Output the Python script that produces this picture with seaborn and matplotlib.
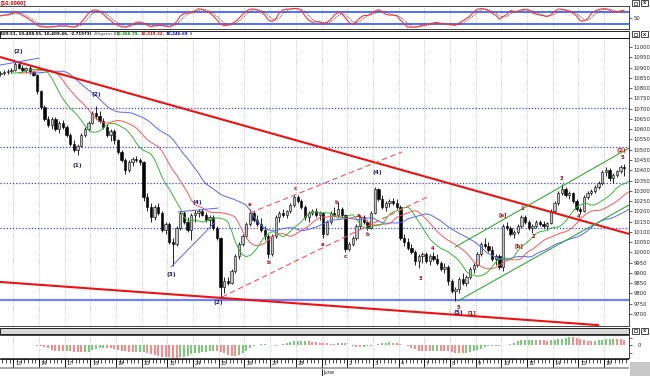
import numpy as np
import pandas as pd
import matplotlib
matplotlib.use("Agg")
import matplotlib.pyplot as plt
import seaborn as sns
from matplotlib.patches import Rectangle
from matplotlib.lines import Line2D

sns.set_style("white")
plt.rcParams['font.family'] = ['DejaVu Sans']

# hourly bars, one row per session (first row: tail of the 12th)
open_ = [10870, 10875, 10880, 10885,
         10890, 10915, 10900, 10890, 10900, 10880, 10865,
         10785, 10710, 10650, 10620, 10650, 10600, 10630,
         10610, 10570, 10530, 10500, 10520, 10570, 10600,
         10630, 10680, 10665, 10640, 10610, 10570, 10590,
         10545, 10490, 10450, 10400, 10440, 10455, 10450,
         10440, 10270, 10220, 10170, 10220, 10190, 10110,
         10140, 10050, 10040, 10120, 10190, 10150, 10110,
         10180, 10190, 10200, 10180, 10160, 10170, 10120,
         10070, 9830, 9860, 9850, 9910, 9980, 10040,
         10080, 10140, 10190, 10160, 10140, 10110, 10080,
         9990, 10080, 10170, 10190, 10180, 10200, 10230,
         10270, 10250, 10220, 10170, 10190, 10200, 10180,
         10190, 10090, 10150, 10190, 10180, 10210, 10180,
         10015, 10040, 10070, 10130, 10170, 10150, 10120,
         10190, 10310, 10260, 10220, 10240, 10250, 10240,
         10220, 10070, 10050, 10020, 10000, 9960, 9980,
         9990, 9960, 9980, 9970, 9950, 9920, 9930,
         9860, 9810, 9820, 9870, 9850, 9880, 9920,
         9940, 9990, 10040, 10030, 10010, 9970, 9980,
         9930, 10130, 10120, 10090, 10100, 10130, 10170,
         10150, 10120, 10130, 10150, 10140, 10130, 10145,
         10200, 10240, 10290, 10310, 10280, 10290, 10250,
         10210, 10200, 10270, 10290, 10300, 10320, 10340,
         10390, 10400, 10360, 10375, 10395, 10415]
high_ = [10885, 10890, 10895, 10900,
         10925, 10930, 10910, 10905, 10910, 10890, 10870,
         10790, 10720, 10665, 10660, 10660, 10640, 10645,
         10620, 10580, 10545, 10530, 10580, 10610, 10640,
         10690, 10715, 10690, 10655, 10625, 10600, 10600,
         10550, 10500, 10460, 10450, 10465, 10470, 10460,
         10445, 10290, 10240, 10230, 10240, 10200, 10150,
         10150, 10070, 10130, 10200, 10200, 10170, 10190,
         10205, 10210, 10210, 10195, 10180, 10180, 10130,
         10075, 9880, 9880, 9920, 9990, 10050, 10090,
         10150, 10210, 10200, 10180, 10165, 10130, 10090,
         10090, 10180, 10200, 10210, 10205, 10240, 10280,
         10280, 10260, 10230, 10200, 10210, 10215, 10200,
         10195, 10160, 10200, 10220, 10245, 10220, 10185,
         10050, 10080, 10140, 10180, 10180, 10160, 10200,
         10320, 10315, 10280, 10250, 10260, 10265, 10260,
         10230, 10090, 10070, 10040, 10010, 9990, 10000,
         10000, 9990, 10000, 9990, 9960, 9950, 9940,
         9870, 9830, 9880, 9900, 9890, 9930, 9950,
         10000, 10050, 10070, 10050, 10030, 9990, 9990,
         10140, 10150, 10130, 10110, 10140, 10180, 10180,
         10160, 10140, 10160, 10160, 10155, 10150, 10210,
         10250, 10300, 10335, 10320, 10300, 10295, 10260,
         10220, 10280, 10300, 10310, 10330, 10350, 10400,
         10415, 10410, 10385, 10400, 10425, 10430]
low_ = [10860, 10865, 10870, 10875,
        10885, 10895, 10880, 10875, 10870, 10860, 10770,
        10700, 10640, 10610, 10600, 10590, 10580, 10600,
        10560, 10520, 10490, 10475, 10515, 10560, 10590,
        10625, 10650, 10630, 10600, 10560, 10540, 10530,
        10480, 10440, 10380, 10390, 10420, 10440, 10425,
        10250, 10200, 10150, 10160, 10180, 10100, 10090,
        10040, 9935, 10030, 10110, 10140, 10100, 10060,
        10150, 10170, 10175, 10150, 10130, 10110, 10060,
        9785, 9800, 9840, 9845, 9900, 9970, 10030,
        10070, 10130, 10150, 10130, 10100, 10060, 9975,
        9980, 10070, 10150, 10170, 10165, 10190, 10220,
        10240, 10210, 10160, 10150, 10180, 10170, 10160,
        10070, 10085, 10140, 10170, 10170, 10170, 10000,
        10005, 10030, 10060, 10120, 10140, 10110, 10115,
        10185, 10250, 10210, 10200, 10220, 10230, 10210,
        10060, 10030, 10010, 9990, 9940, 9925, 9950,
        9950, 9940, 9960, 9940, 9910, 9900, 9840,
        9800, 9765, 9800, 9840, 9835, 9870, 9900,
        9930, 9980, 10020, 10000, 9960, 9940, 9920,
        9910, 10110, 10080, 10070, 10090, 10120, 10140,
        10110, 10095, 10120, 10130, 10120, 10110, 10140,
        10190, 10230, 10280, 10270, 10260, 10240, 10200,
        10185, 10195, 10260, 10280, 10290, 10310, 10330,
        10370, 10350, 10340, 10365, 10385, 10370]
close_ = [10875, 10880, 10885, 10890,
          10915, 10900, 10890, 10900, 10880, 10865, 10785,
          10710, 10650, 10620, 10650, 10600, 10630, 10610,
          10570, 10530, 10500, 10520, 10570, 10600, 10630,
          10680, 10665, 10640, 10610, 10570, 10590, 10545,
          10490, 10450, 10400, 10440, 10455, 10450, 10440,
          10270, 10220, 10170, 10220, 10190, 10110, 10140,
          10050, 10040, 10120, 10190, 10150, 10110, 10180,
          10190, 10200, 10180, 10160, 10170, 10120, 10070,
          9830, 9860, 9850, 9910, 9980, 10040, 10080,
          10140, 10190, 10160, 10140, 10110, 10080, 9990,
          10080, 10170, 10190, 10180, 10200, 10230, 10270,
          10250, 10220, 10170, 10190, 10200, 10180, 10190,
          10090, 10150, 10190, 10180, 10210, 10180, 10015,
          10040, 10070, 10130, 10170, 10150, 10120, 10190,
          10310, 10260, 10220, 10240, 10250, 10240, 10220,
          10070, 10050, 10020, 10000, 9960, 9980, 9990,
          9960, 9980, 9970, 9950, 9920, 9930, 9860,
          9810, 9820, 9870, 9850, 9880, 9920, 9940,
          9990, 10040, 10030, 10010, 9970, 9980, 9930,
          10130, 10120, 10090, 10100, 10130, 10170, 10150,
          10120, 10130, 10150, 10140, 10130, 10145, 10200,
          10240, 10290, 10310, 10280, 10290, 10250, 10210,
          10200, 10270, 10290, 10300, 10320, 10340, 10390,
          10400, 10360, 10375, 10395, 10415, 10410]

day_labels = ["13", "14", "17", "18", "19", "20", "21", "24", "25", "26", "27", "28",
              "1", "2", "3", "4", "7", "8", "9", "10", "11", "14", "15", "16"]
price_ticks = list(range(9700, 11001, 50))

# hand-drawn studies (bar index, price)
fan_top = ([-0.1, 171.3], [10951, 10090])
fan_bottom = ([-0.1, 162.9], [9856, 9646])
red_channel_low = ([60.4, 116.3], [9783, 10270])
red_channel_high = ([68.0, 109.4], [10192, 10489])
green_channel_low = ([124.7, 171.3], [9764, 10231])
green_channel_high = ([123.9, 171.3], [10026, 10508])
blue_lines = [([-0.1, 10.5], [10912, 10946]),
              ([46.5, 58.5], [9929, 10148]),
              ([48.4, 59.3], [10197, 10216])]
dotted_levels = [10703, 10513, 10338, 10119]
support_level = 9766

wave_major = [("(2)", 4.8, 10976), ("(1)", 20.9, 10421), ("(2)", 26.0, 10771),
              ("(3)", 46.5, 9890), ("(4)", 53.6, 10245), ("(2)", 59.3, 9754),
              ("(4)", 102.6, 10387), ("(5)", 124.7, 9705)]
wave_minor = [("a", 68.0, 10231), ("b", 72.9, 9953), ("c", 80.3, 10309),
              ("a", 87.9, 10036), ("b", 91.7, 10245), ("c", 93.9, 9982),
              ("a", 97.5, 10182), ("b", 99.9, 10089), ("3", 114.4, 9875),
              ("4", 117.9, 10021), ("5", 124.7, 9734), ("[1]", 128.5, 9705),
              ("[a]", 137.0, 10182), ("[b]", 141.3, 10031), ("1", 142.2, 10216),
              ("2", 145.2, 10075), ("3", 152.8, 10362), ("4", 157.7, 10177),
              ("5", 169.4, 10462)]

df = pd.DataFrame({"open": open_, "high": high_, "low": low_, "close": close_})
df["t"] = np.arange(len(df))
med = (df["high"] + df["low"]) / 2

# Alligator (smoothed MAs, shifted forward)
gator = []
for n, shift, col in [(13, 8, "#5566ff"), (8, 5, "#ff5555"), (5, 3, "#33b833")]:
    gator.append((df["t"] + shift, med.ewm(alpha=1 / n, adjust=False).mean(), col))

# slow stochastic
ll = df["low"].rolling(8, min_periods=1).min()
hh = df["high"].rolling(8, min_periods=1).max()
k_raw = 100 * (df["close"] - ll) / (hh - ll)
k_line = k_raw.rolling(3, min_periods=1).mean()
d_line = k_line.rolling(3, min_periods=1).mean()

# awesome oscillator
ao = med.rolling(5, min_periods=1).mean() - med.rolling(34, min_periods=1).mean()
ao_up = ao.diff().fillna(0) >= 0

W, H = 650, 376
fig = plt.figure(figsize=(6.5, 3.76), dpi=100)


def px_axes(x0, y0, x1, y1):
    return fig.add_axes([x0 / W, 1 - y1 / H, (x1 - x0) / W, (y1 - y0) / H])


def fx(x):
    return x / W


def fy(y):
    return 1 - y / H


XL = (-0.125, 171.3)
day_t = [3.5 + 7 * k for k in range(len(day_labels))]


def day_grid(ax):
    for t in day_t:
        ax.axvline(t, color="#9a9a9a", lw=0.5, ls=(0, (1, 2)), zorder=0)


def icons(y):
    for x in (632, 641):
        fig.add_artist(Rectangle((fx(x), fy(y + 6)), 7 / W, 6 / H, transform=fig.transFigure,
                                 facecolor="white", edgecolor="black", lw=0.5))
    fig.text(fx(644.5), fy(y + 3), "x", fontsize=3.5, ha="center", va="center", fontweight="bold")
    fig.add_artist(Rectangle((fx(634), fy(y + 4.5)), 3 / W, 3 / H, transform=fig.transFigure,
                             facecolor="white", edgecolor="black", lw=0.4))


# ---- top stochastic panel
axs = px_axes(0, 6, 629, 29)
day_grid(axs)
axs.axhline(80, color="#3355ff", lw=1.2)
axs.axhline(20, color="#3355ff", lw=1.2)
sns.lineplot(x=df["t"], y=d_line, ax=axs, color="#555555", lw=0.7, ls=(0, (1, 1)))
sns.lineplot(x=df["t"], y=k_line, ax=axs, color="#ff3333", lw=0.8)
axs.set_xlim(XL)
axs.set_ylim(-4.4, 107.8)
axs.set_xticks([])
axs.yaxis.tick_right()
axs.set_yticks([50])
axs.tick_params(axis="y", labelsize=3.8, length=2, width=0.5, pad=1.5)
axs.set_xlabel("")
axs.set_ylabel("")
axs.spines["left"].set_visible(False)
for s in ["top", "bottom", "right"]:
    axs.spines[s].set_linewidth(0.6)
fig.text(fx(1), fy(2.2), "[10.0000]", color="#dd0000", fontsize=3.3, fontweight="bold", va="center")
icons(0)

# ---- main header strip
fig.add_artist(Rectangle((0, fy(37.5)), fx(629), 6.5 / H, transform=fig.transFigure,
                         facecolor="white", edgecolor="black", lw=0.6))
icons(31)
parts = [("409.51, 10,408.55, 10,409.46, -2.71973)", "black", "normal"),
         ("Alligator", "#8a8a8a", "italic"),
         ("(", "black", "normal"),
         ("10,366.79,", "#008800", "normal"),
         ("10,319.32,", "#ee0000", "normal"),
         ("10,246.69", "#0000dd", "normal"),
         (")", "black", "normal")]
renderer = fig.canvas.get_renderer()
xc = 0.5
for s, col, st in parts:
    tx = fig.text(fx(xc), fy(34.3), s, color=col, fontsize=2.9, fontweight="bold",
                  fontstyle=st, va="center", ha="left")
    xc += tx.get_window_extent(renderer).width + (0.2 if s == "(" else 1.0)

# ---- main price panel
ax = px_axes(0, 38, 629, 326)
day_grid(ax)
for lv in dotted_levels:
    ax.axhline(lv, color="#3344ff", lw=0.9, ls=(0, (1, 1.5)), zorder=1)
ax.axhline(support_level, color="#7080ff", lw=1.6, zorder=1)

up = df["close"] >= df["open"]
ax.vlines(df["t"], df["low"], df["high"], color="black", lw=0.6, zorder=3)
ax.bar(df["t"][up], (df["close"] - df["open"])[up], bottom=df["open"][up], width=0.62,
       color="#c4c4c4", edgecolor="black", linewidth=0.4, zorder=4)
ax.bar(df["t"][~up], (df["close"] - df["open"])[~up], bottom=df["open"][~up], width=0.62,
       color="black", edgecolor="black", linewidth=0.4, zorder=4)

for xs, ys, col in gator:
    sns.lineplot(x=xs, y=ys, ax=ax, color=col, lw=0.7, zorder=5)

ax.plot(*fan_top, color="#ee1111", lw=1.5, zorder=6)
ax.plot(*fan_bottom, color="#ee1111", lw=1.5, zorder=6)
ax.plot(*red_channel_low, color="#ff5050", lw=0.8, ls=(0, (5, 3)), zorder=6)
ax.plot(*red_channel_high, color="#ff5050", lw=0.8, ls=(0, (5, 3)), zorder=6)
ax.plot(*green_channel_low, color="#33aa33", lw=0.8, zorder=6)
ax.plot(*green_channel_high, color="#33aa33", lw=0.8, zorder=6)
for xs, ys in blue_lines:
    ax.plot(xs, ys, color="#5566ff", lw=0.7, zorder=6)

for s, t, p in wave_major:
    ax.text(t, p, s, color="#1a1a8a", fontsize=4.2, fontweight="bold", ha="center", va="center", zorder=7)
for s, t, p in wave_minor:
    ax.text(t, p, s, color="#aa1111", fontsize=3.8, fontweight="bold", ha="center", va="center", zorder=7)
ax.text(169.1, 10498, "(2)", color="#ff0000", fontsize=4.4, fontweight="bold", ha="center", va="center", zorder=7)

ax.set_xlim(XL)
ax.set_ylim(9641.6, 11043.8)
ax.set_xticks([])
ax.yaxis.tick_right()
ax.set_yticks(price_ticks)
ax.set_yticklabels([str(v) for v in price_ticks])
ax.tick_params(axis="y", labelsize=3.8, length=2, width=0.5, pad=1.2)
ax.set_xlabel("")
ax.set_ylabel("")
ax.spines["left"].set_visible(False)
for s in ["top", "bottom", "right"]:
    ax.spines[s].set_linewidth(0.6)

# ---- lower header strip
fig.add_artist(Rectangle((0, fy(334)), fx(629), 6 / H, transform=fig.transFigure,
                         facecolor="#d8d8d8", edgecolor="black", lw=0.6))
icons(327.5)

# ---- oscillator histogram
axh = px_axes(0, 335, 629, 358)
day_grid(axh)
axh.vlines(df["t"][ao_up], 0, ao[ao_up], color="#55bb55", lw=1.1)
axh.vlines(df["t"][~ao_up], 0, ao[~ao_up], color="#ff6666", lw=1.1)
lim = float(np.abs(ao).max())
axh.set_xlim(XL)
axh.set_ylim(-1.0 * lim, 0.8 * lim)
axh.set_xticks([])
axh.yaxis.tick_right()
axh.set_yticks([-0.6 * lim, 0, 0.6 * lim])
axh.set_yticklabels(["", "0", ""])
axh.tick_params(axis="y", labelsize=3.8, length=2, width=0.5, pad=4)
axh.spines["left"].set_visible(False)
for s in ["top", "bottom", "right"]:
    axh.spines[s].set_linewidth(0.6)

# ---- date strip
axd = px_axes(0, 359, 629, 369)
axd.set_xlim(XL)
axd.set_ylim(0, 1)
axd.axis("off")
axd.axhline(1, color="black", lw=0.6)
axd.add_patch(Rectangle((XL[0], 0), XL[1] - XL[0], 0.22, color="#a8a8a8", lw=0))
axd.vlines(df["t"] + 0.5, 0.62, 1, color="black", lw=0.5)
axd.vlines(day_t, 0.22, 1, color="black", lw=0.6)
for t, lab in zip(day_t, day_labels):
    axd.text(t + 0.5, 0.58, lab, fontsize=3.5, ha="left", va="center")
xj = (day_t[12] - XL[0]) * 629 / (XL[1] - XL[0])
fig.add_artist(Line2D([fx(xj), fx(xj)], [fy(369), fy(376)], transform=fig.transFigure, color="black", lw=0.6))
fig.text(fx(xj + 1.5), fy(372.5), "June", fontsize=3.6, va="center")
fig.add_artist(Rectangle((fx(630), fy(376)), 20 / W, 14 / H, transform=fig.transFigure,
                         facecolor="#c8c8c8", edgecolor="none"))

fig.savefig("out.png", dpi=100)
